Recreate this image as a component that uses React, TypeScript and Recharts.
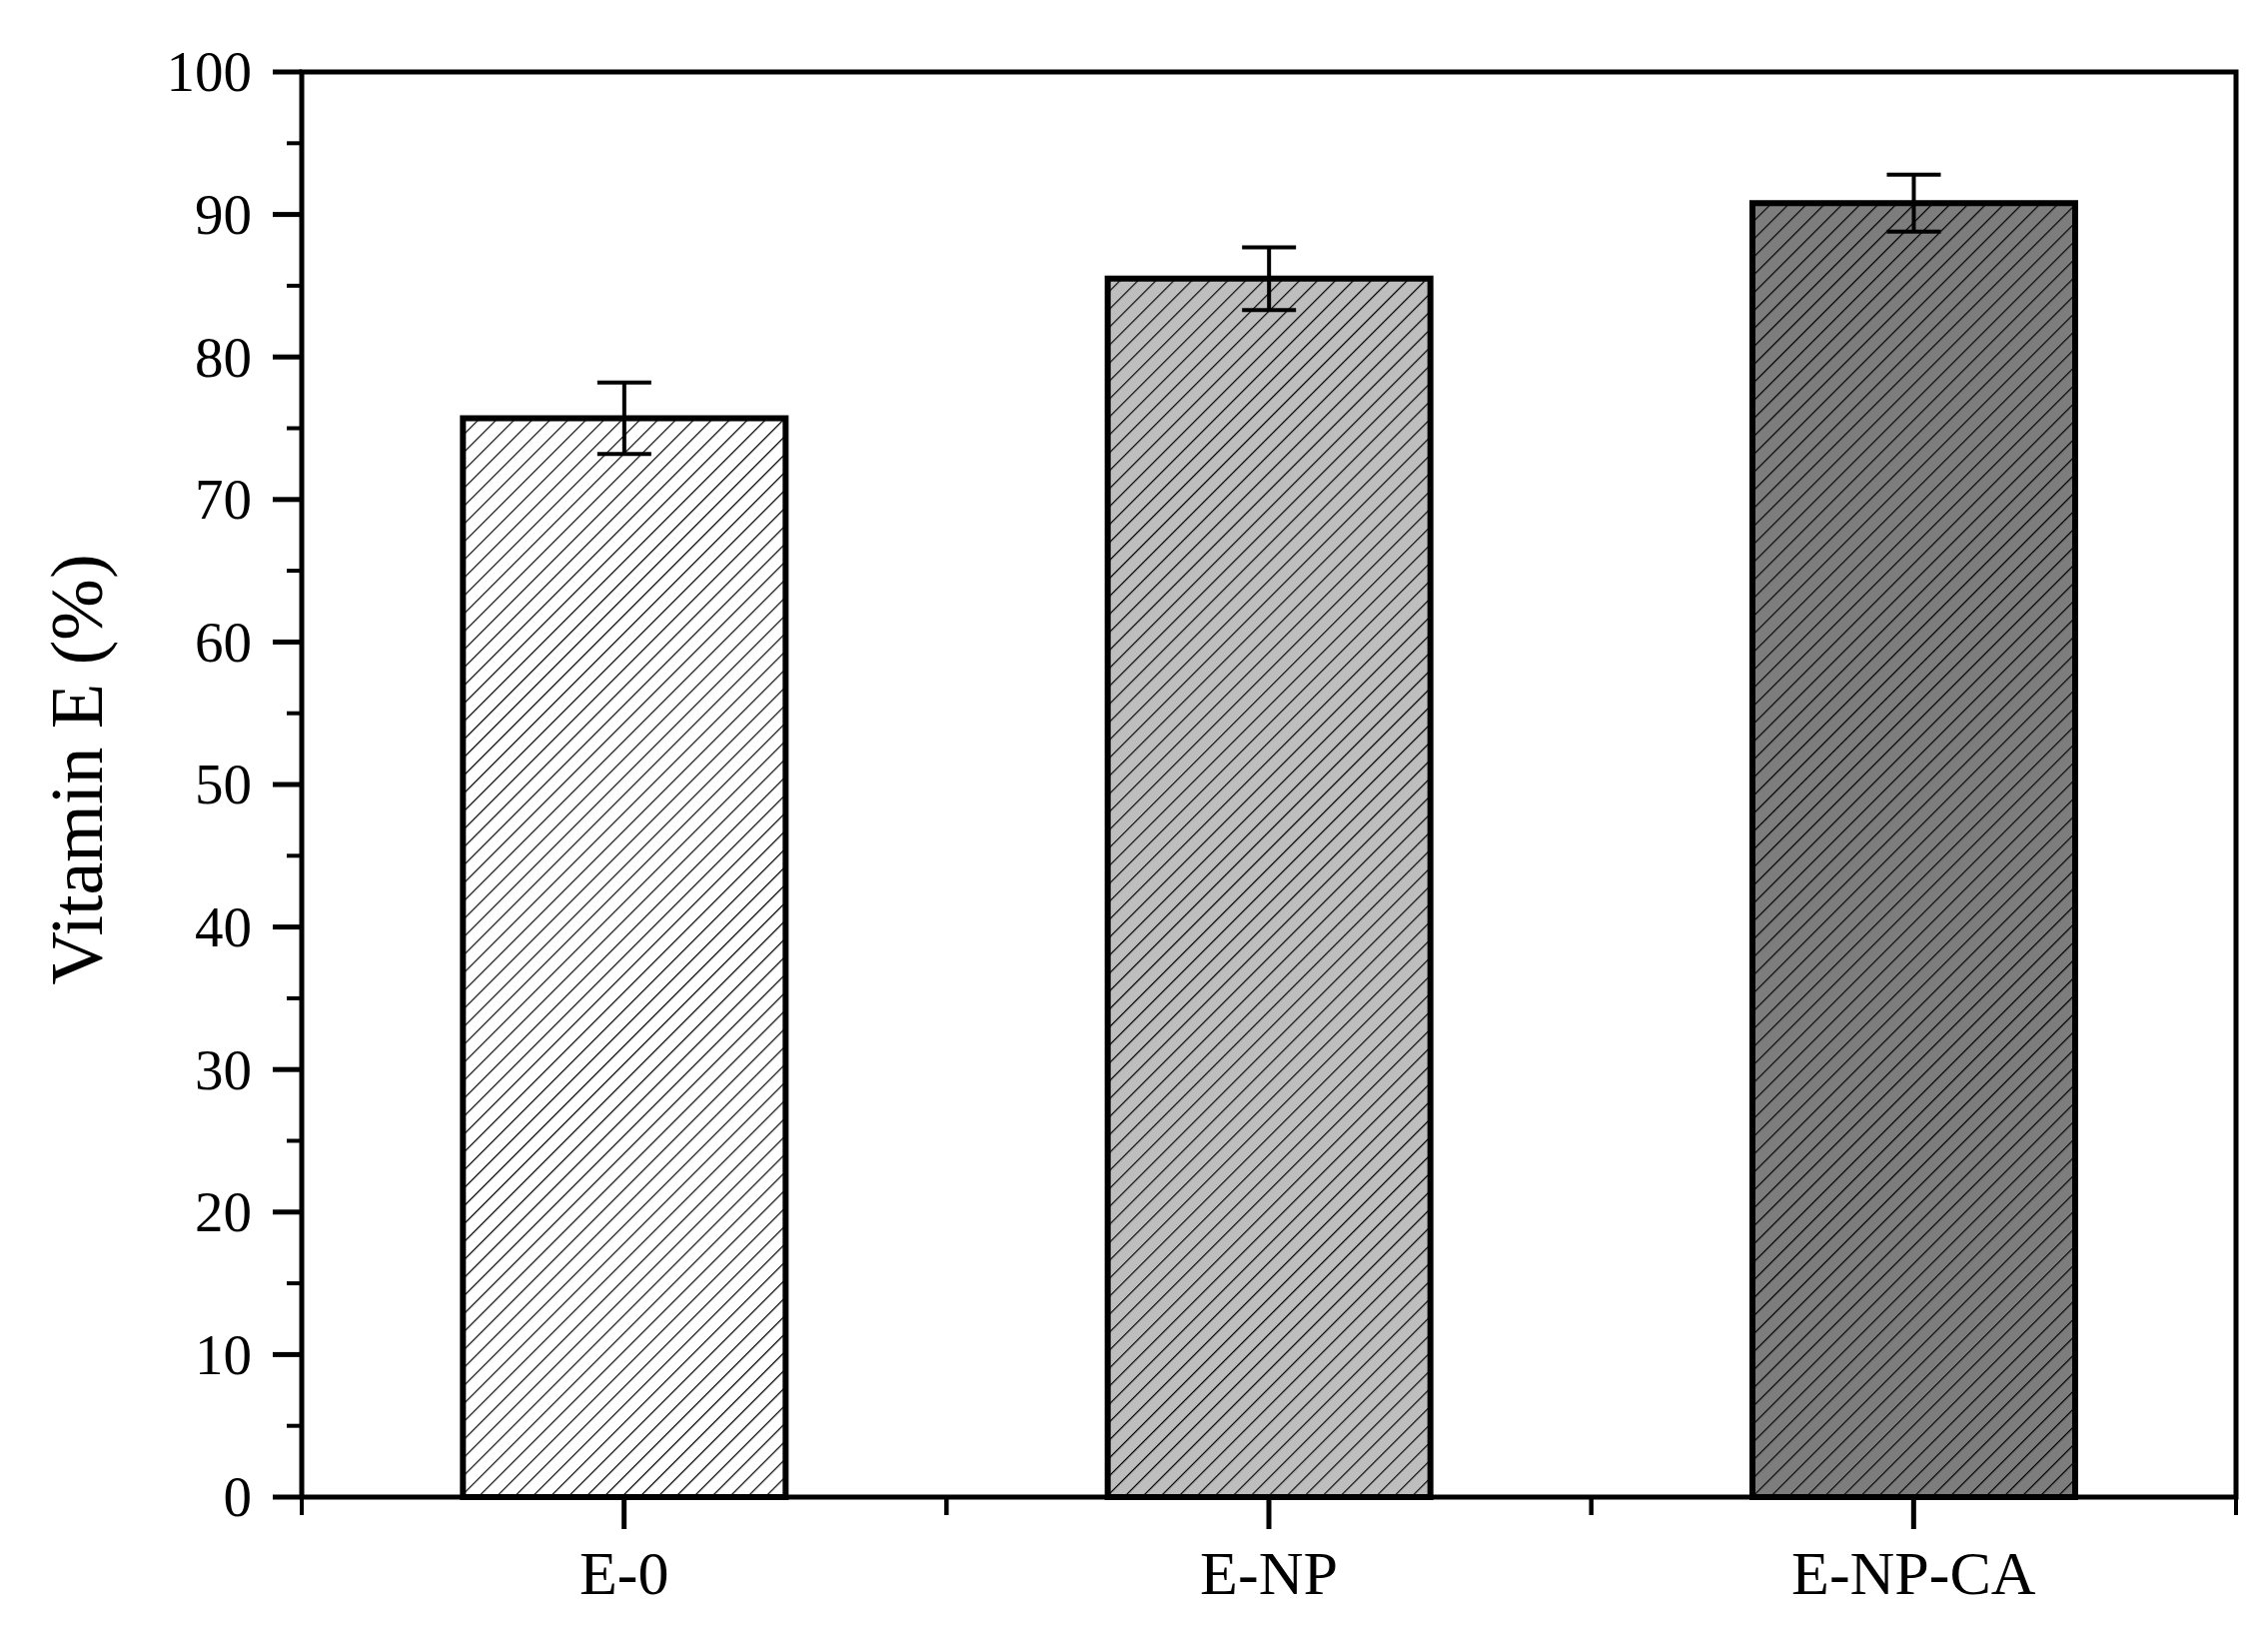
import React from "react"
import { BarChart, Bar, XAxis, YAxis, Cell, ErrorBar, ReferenceArea } from "recharts"

// values
const categories = ["E-0", "E-NP", "E-NP-CA"]
const vitaminE = [75.7, 85.5, 90.8]
const errors = [2.5, 2.2, 2.0]
const majorTicks = [0, 10, 20, 30, 40, 50, 60, 70, 80, 90, 100]
const minorTicks = [5, 15, 25, 35, 45, 55, 65, 75, 85, 95]

const fills = ["url(#hatch0)", "url(#hatch1)", "url(#hatch2)"]
const FONT = "'Liberation Serif', 'Times New Roman', serif"

const data = categories.map((name, i) => ({ name, value: vitaminE[i], err: errors[i] }))
const yTickValues = [...majorTicks, ...minorTicks].sort((a, b) => a - b)

function YTick(props: any) {
  const { x, y, payload } = props
  const major = majorTicks.includes(payload.value)
  return (
    <g>
      <line x1={x} x2={x - (major ? 29 : 15)} y1={y} y2={y} stroke="#000" strokeWidth={major ? 5 : 4} />
      {major && (
        <text x={x - 50} y={y} dy="0.34em" textAnchor="end" fontSize={57} fontFamily={FONT} fill="#000">
          {payload.value}
        </text>
      )}
    </g>
  )
}

// major tick at the category centre, minor ticks at the band edges
function XTick(props: any) {
  const { x, y, payload } = props
  const half = payload && payload.offset ? payload.offset : 0
  return (
    <g>
      <line x1={x} x2={x} y1={y} y2={y + 32} stroke="#000" strokeWidth={5} />
      {half > 0 && <line x1={x - half} x2={x - half} y1={y} y2={y + 18} stroke="#000" strokeWidth={4} />}
      {half > 0 && <line x1={x + half} x2={x + half} y1={y} y2={y + 18} stroke="#000" strokeWidth={4} />}
      <text x={x} y={y + 53} dy="0.71em" textAnchor="middle" fontSize={62} fontFamily={FONT} fill="#000">
        {payload.value}
      </text>
    </g>
  )
}

function YTitle(props: any) {
  const vb = props.viewBox || { x: 182, y: 72, height: 1426 }
  const cx = vb.x - 80
  const cy = vb.y + vb.height / 2 - 15
  return (
    <text x={cx} y={cy} transform={`rotate(-90, ${cx}, ${cy})`} textAnchor="middle" fontSize={74} fontFamily={FONT} fill="#000">
      Vitamin E (%)
    </text>
  )
}

function Hatch({ id, bg }: { id: string; bg: string }) {
  return (
    <pattern id={id} patternUnits="userSpaceOnUse" width={12.7} height={12.7} patternTransform="rotate(45)">
      <rect width={12.7} height={12.7} fill={bg} />
      <line x1={0} y1={0} x2={0} y2={12.7} stroke="#000" strokeWidth={2.4} />
    </pattern>
  )
}

export default function App() {
  return (
    <div style={{ position: "absolute", left: 0, top: 0, width: 2270, height: 1636, background: "#fff" }}>
      <svg width={0} height={0} style={{ position: "absolute" }}>
        <defs>
          <Hatch id="hatch0" bg="#ffffff" />
          <Hatch id="hatch1" bg="#bebebe" />
          <Hatch id="hatch2" bg="#7d7d7d" />
        </defs>
      </svg>
      <BarChart width={2270} height={1636} data={data} margin={{ top: 72, right: 32, left: 182, bottom: 0 }} barCategoryGap="25%">
        <XAxis
          dataKey="name"
          height={138}
          axisLine={false}
          tickLine={false}
          tickSize={0}
          tickMargin={0}
          interval={0}
          tick={<XTick />}
        />
        <YAxis
          width={120}
          domain={[0, 100]}
          ticks={yTickValues}
          interval={0}
          axisLine={false}
          tickLine={false}
          tickSize={0}
          tickMargin={0}
          tick={<YTick />}
          label={{ value: "Vitamin E (%)", content: <YTitle /> }}
        />
        <Bar dataKey="value" stroke="#000" strokeWidth={6} isAnimationActive={false}>
          {data.map((d, i) => (
            <Cell key={d.name} fill={fills[i]} />
          ))}
          <ErrorBar dataKey="err" width={27} strokeWidth={4} stroke="#000" direction="y" isAnimationActive={false} />
        </Bar>
        <ReferenceArea y1={0} y2={100} fill="none" stroke="#000" strokeWidth={5} ifOverflow="visible" />
      </BarChart>
    </div>
  )
}
